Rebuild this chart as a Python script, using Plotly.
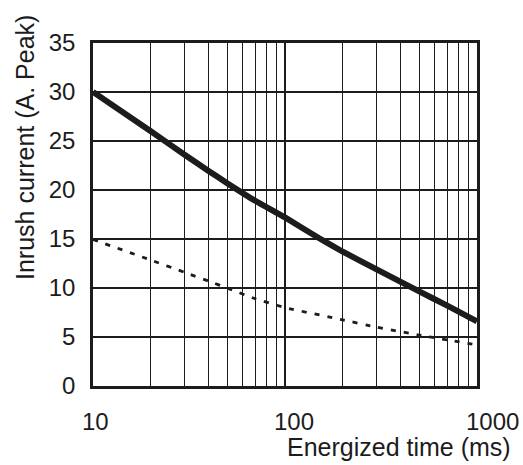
import math
import plotly.graph_objects as go

# Energized time (ms) sample points
time_solid = [10, 20, 30, 40, 50, 70, 100, 150, 200, 300, 500, 700, 1000]
current_solid = [30.0, 26.0, 23.6, 21.95, 20.7, 18.9, 17.2, 15.1, 13.7, 11.9, 9.65, 8.2, 6.6]

time_dashed = [10, 20, 30, 40, 50, 70, 100, 200, 300, 500, 700, 1000]
current_dashed = [14.95, 12.85, 11.6, 10.7, 10.0, 8.9, 8.0, 6.75, 6.0, 5.2, 4.7, 4.2]

x_major = [10, 100, 1000]
x_major_text = ["10", "100", "1000"]
x_minor = [20, 30, 40, 50, 60, 70, 80, 90, 200, 300, 400, 500, 600, 700, 800, 900]
y_ticks = [0, 5, 10, 15, 20, 25, 30, 35]

FONT = "Liberation Sans, Arial, Helvetica, sans-serif"
INK = "#1c1c1c"
TICK_SIZE = 24

fig = go.Figure()
fig.add_trace(go.Scatter(
    x=time_solid, y=current_solid, mode="lines",
    line=dict(color=INK, width=6, shape="spline", smoothing=0.4),
    showlegend=False, hoverinfo="skip"))
fig.add_trace(go.Scatter(
    x=time_dashed, y=current_dashed, mode="lines",
    line=dict(color=INK, width=2.8, dash="5px,8px", shape="spline", smoothing=0.4),
    showlegend=False, hoverinfo="skip"))

# x tick labels as annotations anchored to the log axis values
tick_annotations = [
    dict(text=t, xref="x", yref="paper", x=math.log10(v), y=0,
         xanchor="left", yanchor="middle", yshift=-35, xshift=-13,
         showarrow=False, font=dict(size=TICK_SIZE, family=FONT, color=INK))
    for v, t in zip(x_major, x_major_text)
]

fig.update_layout(
    width=523, height=465,
    margin=dict(l=93, r=46, t=43, b=79),
    paper_bgcolor="white", plot_bgcolor="white",
    font=dict(family=FONT, size=TICK_SIZE, color=INK),
    xaxis=dict(
        type="log", range=[1, 3],
        tickmode="array", tickvals=x_major, ticktext=x_major_text,
        showticklabels=False,
        ticks="", showgrid=True, gridcolor=INK, gridwidth=1.6,
        minor=dict(tickmode="array", tickvals=x_minor, showgrid=True,
                   gridcolor=INK, gridwidth=1.4, ticks=""),
        showline=True, linecolor=INK, linewidth=2.5, mirror=True,
        zeroline=False,
    ),
    yaxis=dict(
        range=[0, 35], tickmode="array", tickvals=y_ticks,
        ticks="", showgrid=True, gridcolor=INK, gridwidth=1.5,
        showline=True, linecolor=INK, linewidth=2.5, mirror=True,
        zeroline=False, ticklabelstandoff=10,
        tickfont=dict(size=TICK_SIZE),
    ),
    annotations=tick_annotations + [
        dict(text="Energized time (ms)", xref="paper", yref="paper",
             x=1.094, y=0, xanchor="right", yanchor="middle", yshift=-61,
             showarrow=False, font=dict(size=25, family=FONT, color=INK)),
        dict(text="Inrush current (A. Peak)", xref="paper", yref="paper",
             x=-0.177, y=0.694, xanchor="center", yanchor="middle",
             textangle=-90, showarrow=False,
             font=dict(size=25, family=FONT, color=INK)),
    ],
)

fig.write_html("out.html", config={"displayModeBar": False},
               post_script="document.body.style.margin='0';document.body.style.overflow='hidden';")
